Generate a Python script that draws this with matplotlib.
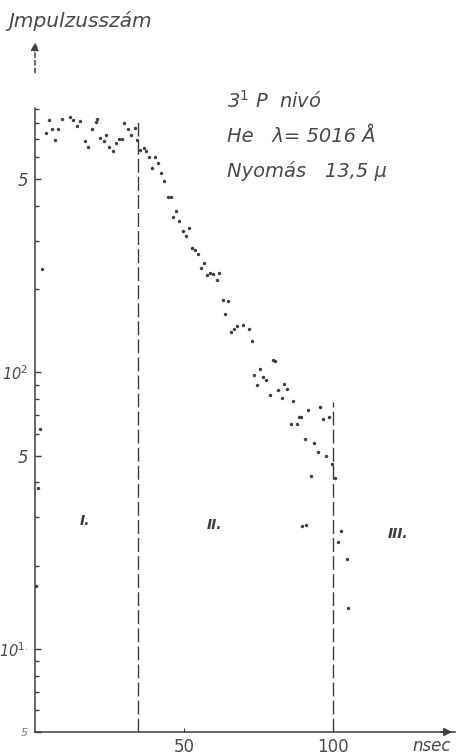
import matplotlib

matplotlib.use("Agg")
import matplotlib.pyplot as plt
from matplotlib.ticker import FixedLocator, FixedFormatter, LogLocator, NullFormatter

time_ns = [
    3.6, 4.8, 5.8, 6.7, 7.8, 9.1, 11.8, 12.9, 14.0, 15.1, 16.9, 17.7, 19.0, 20.5,
    20.9, 21.8, 23.2, 23.8, 24.8, 26.1, 27.2, 28.3, 29.2, 30.0, 31.2, 32.4, 33.6,
    34.1,
    35.2, 36.6, 37.2, 38.2, 40.2, 39.4, 41.4, 42.4, 43.4, 44.7, 45.5, 46.4, 47.4,
    48.4, 49.6, 50.7, 51.7, 52.7, 53.7, 54.7, 55.9, 56.7, 57.8, 58.7, 59.8, 61.0,
    61.8, 63.0, 64.7, 63.8, 65.8, 66.9, 67.7, 70.0, 71.9, 72.8, 79.8, 80.5, 73.5,
    75.7, 76.6, 77.5, 74.6, 78.9, 81.6, 83.6, 84.7, 82.8, 86.6, 91.7, 88.6, 89.4,
    85.9, 87.8, 95.7, 96.7, 98.8, 90.6, 93.6, 94.9, 97.8, 99.6, 100.7, 92.7,
    89.5, 90.9, 102.9, 101.8, 104.6, 105.0,
    2.3, 1.7, 0.9, 0.3,
]
counts = [
    733, 818, 757, 693, 757, 823, 841, 818, 780, 814, 687, 652, 759, 807,
    823, 703, 689, 722, 655, 634, 674, 697, 697, 796, 757, 722, 764,
    693,
    637, 646, 634, 603, 600, 547, 570, 527, 493, 430, 430, 365, 384,
    353, 324, 312, 334, 281, 277, 269, 238, 248, 225, 229, 227, 215,
    228, 182, 181, 162, 140, 144, 147, 149, 143, 130, 111, 110, 98,
    103, 96, 94, 90, 83, 86, 91, 87, 81, 79, 73, 69, 69,
    65, 65, 75, 68, 69, 57.5, 55.4, 51.7, 49.7, 46.7, 41.4, 42.1,
    27.7, 28.1, 26.6, 24.4, 21.2, 14.0,
    236, 62.5, 38.2, 16.8,
]

# region boundaries (nsec) and how high each dashed line reaches
boundary_ns = [34.6, 100]
boundary_top = [820, 78]

region_names = ["I.", "II.", "III."]
region_ns = [16.8, 60.4, 121.8]
region_y = [29, 28, 26]

ytick_vals = [5, 10, 50, 100, 500]
ytick_text = ["5", "10$^{1.}$", "5", "10$^{2}$", "5"]
xtick_vals = [50, 100]
xtick_text = ["50", "100"]

ink = "#3d3d3d"
plt.rcParams["font.family"] = ["DejaVu Sans"]

fig = plt.figure(figsize=(4.61, 7.55), dpi=100)
ax = fig.add_axes([0.0759, 0.0305, 0.911, 0.8265])
ax.set_yscale("log")
ax.set_xlim(0, 141)
ax.set_ylim(5, 905)

ax.scatter(time_ns, counts, s=6, color=ink, linewidths=0, zorder=3)

for xb, top in zip(boundary_ns, boundary_top):
    ax.vlines(xb, 5, top, colors=ink, lw=1.0, linestyles=(0, (10, 3)))

for name, xn, yn in zip(region_names, region_ns, region_y):
    ax.text(xn, yn, name, ha="center", va="center", fontsize=10,
            fontweight="bold", style="italic", color=ink)

for side in ("top", "right"):
    ax.spines[side].set_visible(False)
for side in ("left", "bottom"):
    ax.spines[side].set_color(ink)
    ax.spines[side].set_linewidth(1.1)

ax.yaxis.set_major_locator(FixedLocator(ytick_vals))
ax.yaxis.set_major_formatter(FixedFormatter(ytick_text))
ax.yaxis.set_minor_locator(LogLocator(base=10, subs=range(2, 10)))
ax.yaxis.set_minor_formatter(NullFormatter())
ax.tick_params(axis="y", which="both", direction="in", color=ink, width=1.0,
               labelcolor="#4a4a4a", labelsize=10.5, pad=5)
ax.tick_params(axis="y", which="major", length=4)
ax.tick_params(axis="y", which="minor", length=3)
for lab in ax.get_yticklabels():
    lab.set_style("italic")
ax.get_yticklabels()[0].set_fontsize(8)
ax.get_yticklabels()[0].set_color("#777777")
ax.get_yticklabels()[2].set_fontsize(12)
ax.get_yticklabels()[4].set_fontsize(12)

ax.set_xticks(xtick_vals)
ax.set_xticklabels(xtick_text)
ax.tick_params(axis="x", direction="in", length=3, color=ink, labelcolor="#4a4a4a",
               labelsize=12, pad=4)

# arrow heads on both axes
ax.annotate("", xy=(0, 1.11), xytext=(0, 1.052), xycoords="axes fraction",
            arrowprops=dict(arrowstyle="-|>", lw=1.1, color=ink, ls=(0, (3, 2)),
                            mutation_scale=12))
ax.annotate("", xy=(1.0, 0), xytext=(0.96, 0), xycoords="axes fraction",
            arrowprops=dict(arrowstyle="-|>", lw=1.1, color=ink, mutation_scale=12))

ax.text(0.945, -0.022, "nsec", transform=ax.transAxes, ha="center", va="center",
        fontsize=12, style="italic", color="#4a4a4a")

fig.text(0.018, 0.972, "Jmpulzusszám", ha="left", va="center", fontsize=14.5,
         style="italic", color="#4a4a4a")

info = ["3$^{1}$ P  nivó", "He   λ= 5016 Å", "Nyomás   13,5 μ"]
for i, line in enumerate(info):
    fig.text(0.493, 0.866 - i * 0.0465, line, ha="left", va="center",
             fontsize=14, style="italic", color="#4a4a4a")

fig.savefig("out.png", dpi=100, facecolor="white")
